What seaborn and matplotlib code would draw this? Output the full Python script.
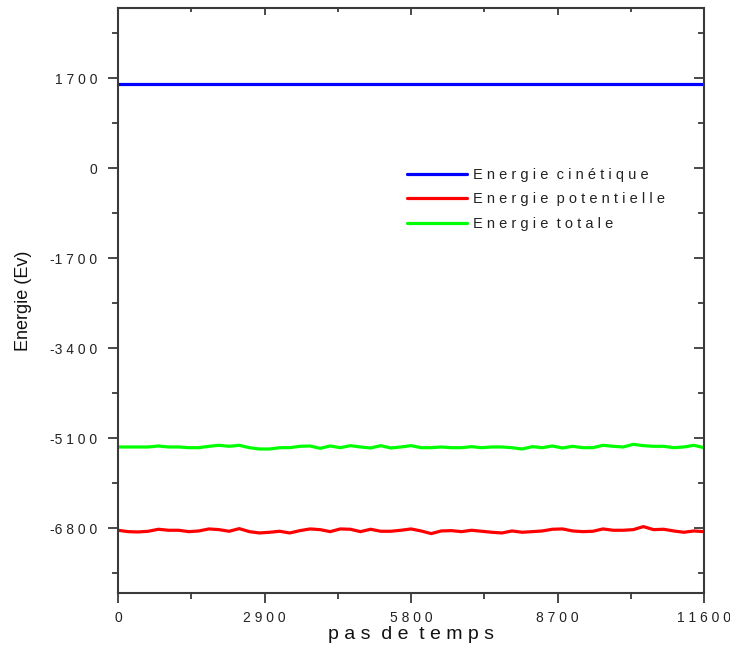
import matplotlib
matplotlib.use("Agg")
import matplotlib.pyplot as plt
import seaborn as sns
import pandas as pd
from matplotlib.ticker import MultipleLocator, FixedLocator, FixedFormatter

# ---- data ----
steps = [0, 200, 400, 600, 800, 1000, 1200, 1400, 1600, 1800, 2000, 2200, 2400, 2600,
         2800, 3000, 3200, 3400, 3600, 3800, 4000, 4200, 4400, 4600, 4800, 5000, 5200,
         5400, 5600, 5800, 6000, 6200, 6400, 6600, 6800, 7000, 7200, 7400, 7600, 7800,
         8000, 8200, 8400, 8600, 8800, 9000, 9200, 9400, 9600, 9800, 10000, 10200,
         10400, 10600, 10800, 11000, 11200, 11400, 11600]

kin_steps = [0, 11600]
e_kinetique = [1592, 1592]

e_potentielle = [-6837, -6863, -6869, -6856, -6818, -6837, -6837, -6863, -6850, -6812,
                 -6825, -6856, -6806, -6863, -6888, -6875, -6856, -6888, -6844, -6812,
                 -6825, -6863, -6812, -6818, -6863, -6818, -6856, -6856, -6837, -6812,
                 -6850, -6900, -6850, -6844, -6863, -6837, -6856, -6875, -6888, -6850,
                 -6875, -6863, -6850, -6818, -6812, -6850, -6863, -6856, -6812, -6837,
                 -6837, -6825, -6768, -6825, -6818, -6850, -6875, -6850, -6863]

e_totale = [-5264, -5264, -5264, -5264, -5245, -5264, -5264, -5277, -5277, -5251,
            -5232, -5251, -5232, -5277, -5302, -5302, -5277, -5277, -5251, -5245,
            -5289, -5245, -5277, -5239, -5264, -5283, -5239, -5283, -5264, -5239,
            -5277, -5277, -5264, -5277, -5277, -5258, -5277, -5264, -5264, -5277,
            -5302, -5258, -5277, -5245, -5283, -5251, -5277, -5277, -5232, -5251,
            -5264, -5214, -5239, -5251, -5251, -5277, -5264, -5232, -5277]

labels = ["Energie cinétique", "Energie potentielle", "Energie totale"]
colors = ["#0000ff", "#ff0000", "#00ff00"]

xticks = [0, 2900, 5800, 8700, 11600]
yticks = [-6800, -5100, -3400, -1700, 0, 1700]

def spaced(s):
    return " ".join(list(s)).replace("   ", "  ")

def tick_text(v):
    s = " ".join(list(str(abs(v))))
    return ("-" + s) if v < 0 else s

# ---- figure ----
sns.set_theme(style="white")
plt.rcParams["font.family"] = ["Liberation Sans", "DejaVu Sans"]

fig = plt.figure(figsize=(7.30, 6.46), dpi=100)
ax = fig.add_axes([118/730, 1 - 593/646, (704-118)/730, (593-8)/646])

df_pot = pd.DataFrame({"pas": steps, "E": e_potentielle})
df_tot = pd.DataFrame({"pas": steps, "E": e_totale})
df_kin = pd.DataFrame({"pas": kin_steps, "E": e_kinetique})

sns.lineplot(data=df_kin, x="pas", y="E", ax=ax, color=colors[0], lw=2.3,
             label=spaced(labels[0]), estimator=None)
sns.lineplot(data=df_pot, x="pas", y="E", ax=ax, color=colors[1], lw=2.3,
             label=spaced(labels[1]), estimator=None)
sns.lineplot(data=df_tot, x="pas", y="E", ax=ax, color=colors[2], lw=2.3,
             label=spaced(labels[2]), estimator=None)

ax.set_xlim(0, 11600)
ax.set_ylim(-8022, 3028)

spine_c = "#3a3a3a"
for s in ax.spines.values():
    s.set_visible(True)
    s.set_color(spine_c)
    s.set_linewidth(1.5)

ax.xaxis.set_major_locator(FixedLocator(xticks))
ax.xaxis.set_major_formatter(FixedFormatter([tick_text(v) for v in xticks]))
ax.xaxis.set_minor_locator(MultipleLocator(1450))
ax.yaxis.set_major_locator(FixedLocator(yticks))
ax.yaxis.set_major_formatter(FixedFormatter([tick_text(v) for v in yticks]))
ax.yaxis.set_minor_locator(MultipleLocator(850))

ax.tick_params(axis="both", which="both", direction="out", colors=spine_c,
               labelcolor="#222222", labelsize=10, bottom=True, left=True,
               top=False, right=False)
ax.tick_params(which="major", length=7, width=1.3)
ax.tick_params(axis="y", which="major", pad=8)
ax.tick_params(axis="x", which="major", pad=6)
ax.tick_params(which="minor", length=4, width=1.3)

# inward ticks on top and right
secx = ax.secondary_xaxis("top")
secx.xaxis.set_major_locator(FixedLocator(xticks))
secx.xaxis.set_minor_locator(MultipleLocator(1450))
secx.tick_params(which="both", direction="in", labeltop=False, colors=spine_c, width=1.3)
secx.tick_params(which="major", length=5)
secx.tick_params(which="minor", length=3)
secx.spines["top"].set_visible(False)
secy = ax.secondary_yaxis("right")
secy.yaxis.set_major_locator(FixedLocator(yticks))
secy.yaxis.set_minor_locator(MultipleLocator(850))
secy.tick_params(which="both", direction="in", labelright=False, colors=spine_c, width=1.3)
secy.tick_params(which="major", length=7)
secy.tick_params(which="minor", length=4)
secy.spines["right"].set_visible(False)

ax.set_xlabel(spaced("pas de temps"), fontsize=14, color="#111111", labelpad=1)
ax.set_ylabel("Energie (Ev)", fontsize=13, color="#111111", labelpad=13)

leg = ax.legend(loc="upper left", bbox_to_anchor=(0.493, 0.727), frameon=False,
                fontsize=10.5, handlelength=4.1, handletextpad=0.4,
                labelspacing=0.72, borderpad=0, borderaxespad=0)
for t in leg.get_texts():
    t.set_color("#222222")

fig.savefig("out.png", dpi=100)
